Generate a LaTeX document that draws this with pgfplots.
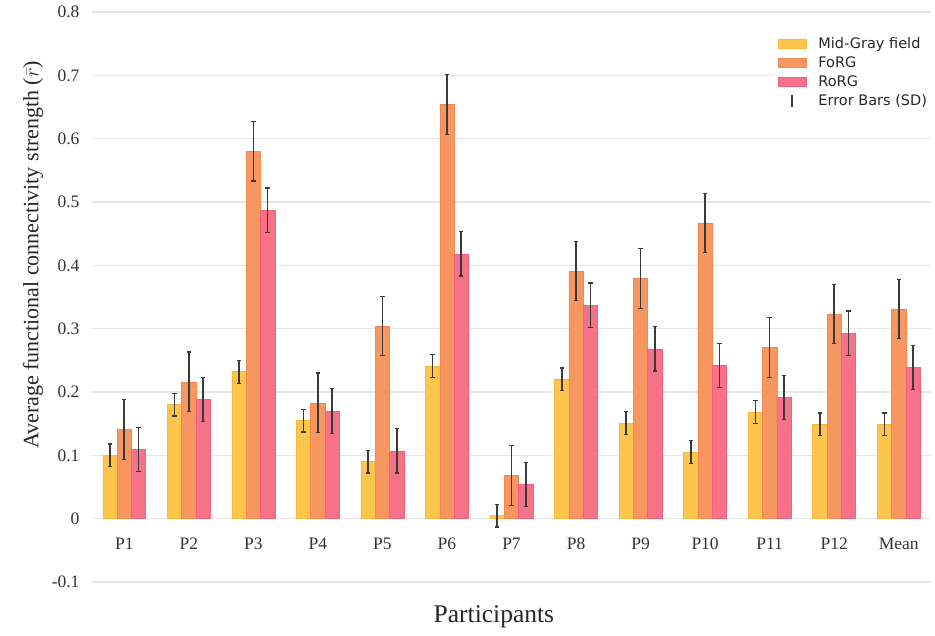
\documentclass[border=0pt]{standalone}
\usepackage{fontspec}
\setmainfont{Liberation Serif}
\newfontfamily\legfont{DejaVu Sans}
\usepackage{pgfplots}
\pgfplotsset{compat=1.18}
\definecolor{cY}{HTML}{FDC54C}
\definecolor{cYd}{HTML}{F8BA3C}
\definecolor{cO}{HTML}{F79660}
\definecolor{cOd}{HTML}{F4884F}
\definecolor{cR}{HTML}{F67288}
\definecolor{cRd}{HTML}{F3617A}
\definecolor{errc}{HTML}{3A3A3A}
\definecolor{gridc}{HTML}{E6E6E6}
\begin{document}
\begin{tikzpicture}
\useasboundingbox (-92pt,-53pt) rectangle (843pt,582pt);
\begin{axis}[
  at={(0pt,0pt)}, anchor=south west,
  scale only axis,
  width=839pt, height=570pt,
  xmin=-0.5, xmax=12.5,
  ymin=-0.1, ymax=0.8,
  ybar=0pt, bar width=14.3pt,
  xtick={0,1,2,3,4,5,6,7,8,9,10,11,12},
  xticklabels={P1,P2,P3,P4,P5,P6,P7,P8,P9,P10,P11,P12,Mean},
  ytick={-0.1,0,0.1,0.2,0.3,0.4,0.5,0.6,0.7,0.8},
  yticklabels={-0.1,0,0.1,0.2,0.3,0.4,0.5,0.6,0.7,0.8},
  major tick length=0pt,
  axis line style={draw=none},
  ymajorgrids, major grid style={gridc, line width=1.2pt},
  tick label style={font=\fontsize{17.5}{20}\selectfont, text=black!80},
  xticklabel style={anchor=center, yshift=38pt},
  yticklabel style={anchor=east, xshift=-9pt},
  ylabel={Average functional connectivity strength ($\bar{r}$)},
  ylabel style={at={(axis description cs:-0.0703,0.574)}, anchor=center, font=\fontsize{22}{26}\selectfont, text=black!85},
  xlabel={Participants},
  xlabel style={at={(axis description cs:0.479,-0.0614)}, anchor=center, font=\fontsize{25.5}{29}\selectfont, text=black!85},
  error bars/error bar style={line width=1.6pt, color=errc},
  error bars/error mark=-,
  error bars/error mark options={rotate=90, line width=1.2pt, mark size=2.2pt, color=errc},
  legend image code/.code={\path[#1] (0pt,-4.5pt) rectangle (28pt,4.5pt); \path (0pt,0pt) (38pt,0pt);},
  legend style={at={(axis description cs:0.8125,0.966)}, anchor=north west, draw=none, fill=white,
    font=\legfont\fontsize{14.5}{17}\selectfont, text=black!85, row sep=2.6pt,
    inner xsep=4pt, inner ysep=4pt},
  legend cell align=left,
]
\addplot[fill=cY, draw=cYd, line width=0.5pt, error bars/.cd, y dir=both, y explicit] coordinates {
 (0,0.100) +- (0,0.018)
 (1,0.180) +- (0,0.018)
 (2,0.232) +- (0,0.018)
 (3,0.155) +- (0,0.018)
 (4,0.090) +- (0,0.018)
 (5,0.241) +- (0,0.018)
 (6,0.005) +- (0,0.018)
 (7,0.220) +- (0,0.018)
 (8,0.151) +- (0,0.018)
 (9,0.105) +- (0,0.018)
 (10,0.168) +- (0,0.018)
 (11,0.149) +- (0,0.018)
 (12,0.149) +- (0,0.018)
};
\addlegendentry{Mid-Gray field}
\addplot[fill=cO, draw=cOd, line width=0.5pt, error bars/.cd, y dir=both, y explicit] coordinates {
 (0,0.141) +- (0,0.047)
 (1,0.216) +- (0,0.047)
 (2,0.580) +- (0,0.047)
 (3,0.183) +- (0,0.047)
 (4,0.304) +- (0,0.047)
 (5,0.654) +- (0,0.047)
 (6,0.068) +- (0,0.047)
 (7,0.391) +- (0,0.047)
 (8,0.379) +- (0,0.047)
 (9,0.467) +- (0,0.047)
 (10,0.270) +- (0,0.047)
 (11,0.323) +- (0,0.047)
 (12,0.331) +- (0,0.047)
};
\addlegendentry{FoRG}
\addplot[fill=cR, draw=cRd, line width=0.5pt, error bars/.cd, y dir=both, y explicit] coordinates {
 (0,0.109) +- (0,0.035)
 (1,0.188) +- (0,0.035)
 (2,0.487) +- (0,0.035)
 (3,0.170) +- (0,0.035)
 (4,0.107) +- (0,0.035)
 (5,0.418) +- (0,0.035)
 (6,0.054) +- (0,0.035)
 (7,0.337) +- (0,0.035)
 (8,0.268) +- (0,0.035)
 (9,0.242) +- (0,0.035)
 (10,0.191) +- (0,0.035)
 (11,0.293) +- (0,0.035)
 (12,0.239) +- (0,0.035)
};
\addlegendentry{RoRG}
\addlegendimage{legend image code/.code={\draw[errc, line width=1.6pt] (14pt,-6pt) -- (14pt,6pt); \path (0pt,0pt) (38pt,0pt);}}
\addlegendentry{Error Bars (SD)}
\end{axis}
\end{tikzpicture}
\end{document}
